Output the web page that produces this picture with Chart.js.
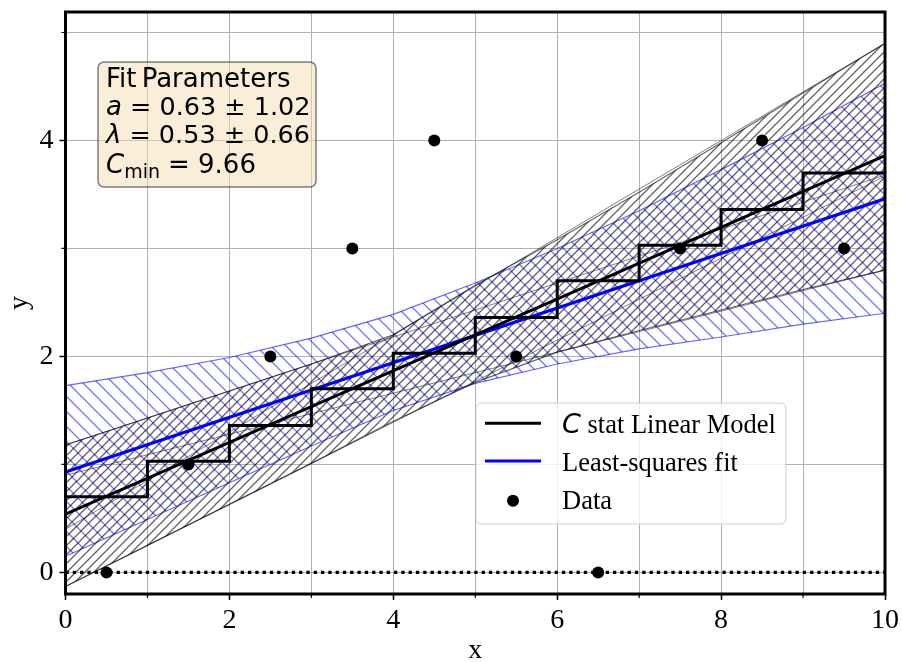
<!DOCTYPE html>
<html>
<head>
<meta charset="utf-8">
<script src="https://cdn.jsdelivr.net/npm/chart.js@4.4.1/dist/chart.umd.min.js"></script>
<style>
  body { margin: 0; background: #fff; }
  #wrap { width: 902px; height: 662px; }
</style>
</head>
<body>
<div id="wrap"><canvas id="chart"></canvas></div>
<script>
// values
const binEdges   = [0, 1, 2, 3, 4, 5, 6, 7, 8, 9, 10];
const stepValues = [0.70, 1.03, 1.36, 1.70, 2.03, 2.36, 2.70, 3.03, 3.36, 3.70, 3.70];
const dataX = [0.5, 1.5, 2.5, 3.5, 4.5, 5.5, 6.5, 7.5, 8.5, 9.5];
const dataY = [0, 1, 2, 3, 4, 2, 0, 3, 4, 3];
const lineX  = [0, 10];
const cstatY = [0.54, 3.86];
const lsqY   = [0.93, 3.46];
const zeroY  = [0, 0];
const fanA = [1.18, 3.68];
const fanB = [0.40, 4.90];
const fanC = [-0.13, 3.67];
const fanD = [0.90, 2.80];
const grayUpper = [1.18, 1.43, 1.68, 1.93, 2.20, 2.66, 3.08, 3.52, 3.98, 4.44, 4.90];
const grayLower = [-0.13, 0.25, 0.63, 1.01, 1.40, 1.76, 2.04, 2.24, 2.43, 2.62, 2.80];
const blueUpper = [1.73, 1.85, 1.99, 2.17, 2.39, 2.68, 3.00, 3.35, 3.73, 4.12, 4.53];
const blueLower = [0.15, 0.49, 0.83, 1.17, 1.50, 1.75, 1.93, 2.07, 2.18, 2.30, 2.40];
const xTicks = [0, 2, 4, 6, 8, 10];
const yTicks = [0, 2, 4];

const pts = (xs, ys) => xs.map((x, i) => ({ x: x, y: ys[i] }));

function hatch(color, size, dir, lw) {
    const c = document.createElement('canvas');
    c.width = c.height = size;
    const g = c.getContext('2d');
    g.strokeStyle = color;
    g.lineWidth = lw;
    g.beginPath();
    if (dir === '/') {
        g.moveTo(0, size); g.lineTo(size, 0);
        g.moveTo(-size / 2, size / 2); g.lineTo(size / 2, -size / 2);
        g.moveTo(size / 2, size * 1.5); g.lineTo(size * 1.5, size / 2);
    } else {
        g.moveTo(0, 0); g.lineTo(size, size);
        g.moveTo(-size / 2, size / 2); g.lineTo(size / 2, size * 1.5);
        g.moveTo(size / 2, -size / 2); g.lineTo(size * 1.5, size / 2);
    }
    g.stroke();
    return g.createPattern(c, 'repeat');
}

const grayHatch = hatch('rgba(0,0,0,0.62)', 9, '/', 1.25);
const blueHatch = hatch('rgba(0,0,255,0.55)', 15, '\\', 1.3);

const serif = '"Liberation Serif", "DejaVu Serif", serif';
const sans = '"DejaVu Sans", sans-serif';

const decor = {
    id: 'decor',
    afterDatasetsDraw(chart) {
        const ctx = chart.ctx;
        const ca = chart.chartArea;
        const xs = chart.scales.x, ys = chart.scales.y;
        ctx.save();

        // minor ticks at odd values
        ctx.strokeStyle = '#000';
        ctx.lineWidth = 1.2;
        ctx.beginPath();
        [1, 3, 5, 7, 9].forEach(v => {
            const px = xs.getPixelForValue(v);
            ctx.moveTo(px, ca.bottom); ctx.lineTo(px, ca.bottom + 4);
        });
        [1, 3, 5].forEach(v => {
            const py = ys.getPixelForValue(v);
            ctx.moveTo(ca.left, py); ctx.lineTo(ca.left - 4, py);
        });
        ctx.stroke();

        // frame
        ctx.lineWidth = 3;
        ctx.strokeRect(ca.left, ca.top, ca.right - ca.left, ca.bottom - ca.top);

        // fit parameter box
        ctx.beginPath();
        ctx.roundRect(98, 62, 218, 125, 6);
        ctx.fillStyle = 'rgba(245,222,179,0.5)';
        ctx.fill();
        ctx.lineWidth = 1.5;
        ctx.strokeStyle = 'rgba(0,0,0,0.5)';
        ctx.stroke();

        ctx.fillStyle = '#000';
        ctx.textBaseline = 'alphabetic';
        ctx.textAlign = 'left';
        const x0 = 106;
        ctx.font = '26px ' + sans;
        ctx.fillText('Fit\u2009Parameters', x0, 87);

        const sym = (s, rest, y) => {
            ctx.font = 'italic 26px ' + sans;
            ctx.fillText(s, x0, y);
            const w = ctx.measureText(s).width;
            ctx.font = '25.5px ' + sans;
            ctx.fillText(rest, x0 + w + 8, y);
        };
        sym('a', '= 0.63 \u00b1 1.02', 115);
        sym('\u03bb', '= 0.53 \u00b1 0.66', 143);

        ctx.font = 'italic 26px ' + sans;
        ctx.fillText('C', x0, 173);
        let w = ctx.measureText('C').width;
        ctx.font = '19px ' + sans;
        ctx.fillText('min', x0 + w, 178);
        w += ctx.measureText('min').width;
        ctx.font = '26px ' + sans;
        ctx.fillText('= 9.66', x0 + w + 8, 173);

        // legend
        ctx.beginPath();
        ctx.roundRect(476, 403, 310, 121, 5);
        ctx.fillStyle = 'rgba(255,255,255,0.8)';
        ctx.fill();
        ctx.lineWidth = 1;
        ctx.strokeStyle = '#cccccc';
        ctx.stroke();

        const rows = [423.3, 461, 500.7];
        ctx.lineWidth = 3;
        ctx.strokeStyle = '#000';
        ctx.beginPath(); ctx.moveTo(485, rows[0]); ctx.lineTo(541, rows[0]); ctx.stroke();
        ctx.strokeStyle = '#0000ff';
        ctx.beginPath(); ctx.moveTo(485, rows[1]); ctx.lineTo(541, rows[1]); ctx.stroke();
        ctx.fillStyle = '#000';
        ctx.beginPath(); ctx.arc(513, rows[2], 6, 0, Math.PI * 2); ctx.fill();

        const tx = 562;
        ctx.font = 'italic 27px ' + sans;
        ctx.fillText('C', tx, 432.7);
        const cw = ctx.measureText('C').width;
        ctx.font = '26.5px ' + serif;
        ctx.fillText(' stat Linear Model', tx + cw, 432.7);
        ctx.fillText('Least-squares fit', tx, 470.5);
        ctx.fillText('Data', tx, 508.5);

        ctx.restore();
    },
    afterDraw(chart) {
        const ctx = chart.ctx;
        const ca = chart.chartArea;
        ctx.save();
        ctx.fillStyle = '#000';
        ctx.font = '28px ' + serif;
        ctx.textAlign = 'center';
        ctx.textBaseline = 'alphabetic';
        ctx.fillText('x', (ca.left + ca.right) / 2, 658);
        ctx.translate(27, (ca.top + ca.bottom) / 2);
        ctx.rotate(-Math.PI / 2);
        ctx.fillText('y', 0, 0);
        ctx.restore();
    }
};

const thinLine = (ys, color) => ({
    data: pts(lineX, ys),
    borderColor: color,
    borderWidth: 1,
    pointRadius: 0,
    fill: false
});

const chart = new Chart(document.getElementById('chart').getContext('2d'), {
    type: 'line',
    data: {
        datasets: [
            {
                label: 'Data',
                data: pts(dataX, dataY),
                showLine: false,
                pointRadius: 6,
                pointBackgroundColor: '#000',
                pointBorderColor: '#000',
                pointBorderWidth: 0
            },
            {
                label: 'C stat steps',
                data: pts(binEdges, stepValues),
                stepped: true,
                borderColor: '#000',
                borderWidth: 3,
                pointRadius: 0
            },
            {
                label: 'C stat Linear Model',
                data: pts(lineX, cstatY),
                borderColor: '#000',
                borderWidth: 3,
                pointRadius: 0
            },
            {
                label: 'Least-squares fit',
                data: pts(lineX, lsqY),
                borderColor: '#0000ff',
                borderWidth: 3.2,
                pointRadius: 0
            },
            {
                label: 'zero',
                data: pts(lineX, zeroY),
                borderColor: '#000',
                borderWidth: 3.3,
                borderDash: [3.3, 4],
                pointRadius: 0
            },
            thinLine(fanA, 'rgba(0,0,0,0.5)'),
            thinLine(fanB, 'rgba(0,0,0,0.5)'),
            thinLine(fanC, 'rgba(0,0,0,0.5)'),
            thinLine(fanD, 'rgba(0,0,0,0.5)'),
            {
                label: 'gray band upper',
                data: pts(binEdges, grayUpper),
                borderColor: 'rgba(0,0,0,0.6)',
                borderWidth: 1.2,
                pointRadius: 0,
                backgroundColor: grayHatch,
                fill: '+1'
            },
            {
                label: 'gray band lower',
                data: pts(binEdges, grayLower),
                borderColor: 'rgba(0,0,0,0.6)',
                borderWidth: 1.2,
                pointRadius: 0,
                fill: false
            },
            {
                label: 'blue band upper',
                data: pts(binEdges, blueUpper),
                borderColor: 'rgba(0,0,255,0.6)',
                borderWidth: 1.2,
                pointRadius: 0,
                backgroundColor: blueHatch,
                fill: '+1'
            },
            {
                label: 'blue band lower',
                data: pts(binEdges, blueLower),
                borderColor: 'rgba(0,0,255,0.6)',
                borderWidth: 1.2,
                pointRadius: 0,
                fill: false
            }
        ]
    },
    options: {
        responsive: true,
        maintainAspectRatio: false,
        animation: false,
        layout: { padding: { top: 12, right: 17, left: 0, bottom: 0 } },
        elements: { line: { tension: 0 } },
        plugins: {
            legend: { display: false },
            tooltip: { enabled: false }
        },
        scales: {
            x: {
                type: 'linear',
                min: 0,
                max: 10,
                afterFit: s => { s.height = 68; s.paddingLeft = 0; s.paddingRight = 0; },
                border: { display: false },
                grid: {
                    color: '#b0b0b0',
                    lineWidth: 1,
                    tickLength: 6,
                    tickWidth: 1.5,
                    tickColor: c => xTicks.includes(c.tick.value) ? '#000' : 'rgba(0,0,0,0)'
                },
                ticks: {
                    stepSize: 1,
                    autoSkip: false,
                    maxRotation: 0,
                    padding: 4,
                    color: '#000',
                    font: { family: serif, size: 28 },
                    callback: v => xTicks.includes(v) ? String(v) : ''
                }
            },
            y: {
                type: 'linear',
                min: -0.2,
                max: 5.19,
                afterFit: s => { s.width = 65.5; s.paddingTop = 0; s.paddingBottom = 0; },
                border: { display: false },
                grid: {
                    color: '#b0b0b0',
                    lineWidth: 1,
                    tickLength: 6,
                    tickWidth: 1.5,
                    tickColor: c => yTicks.includes(c.tick.value) ? '#000' : 'rgba(0,0,0,0)'
                },
                ticks: {
                    stepSize: 1,
                    includeBounds: false,
                    autoSkip: false,
                    padding: 6,
                    color: '#000',
                    font: { family: serif, size: 28 },
                    callback: v => yTicks.includes(v) ? String(v) : ''
                }
            }
        }
    },
    plugins: [decor]
});
</script>
</body>
</html>
